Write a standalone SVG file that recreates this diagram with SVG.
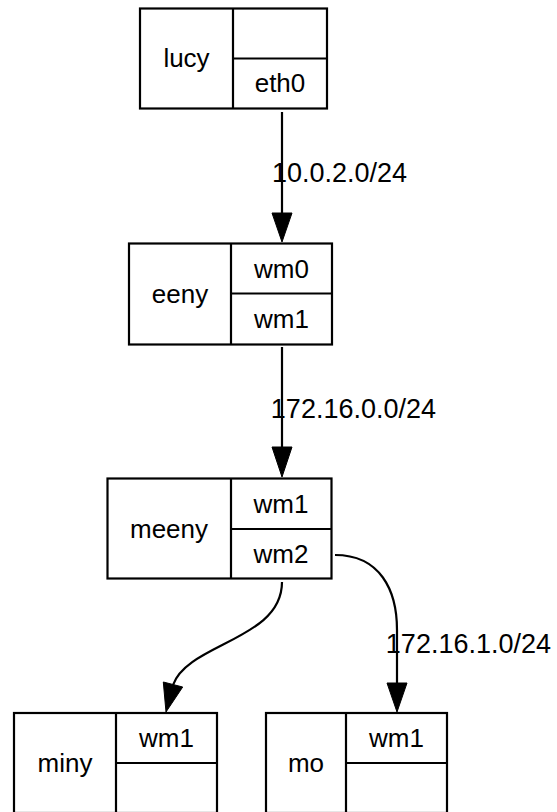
<svg xmlns="http://www.w3.org/2000/svg" width="557" height="812" viewBox="0 0 557 812">
  <style>
    .box { fill: #ffffff; stroke: #000000; stroke-width: 2.2; }
    .sep { fill: none; stroke: #000000; stroke-width: 2.2; }
    .edge { fill: none; stroke: #000000; stroke-width: 2.2; }
    .head { fill: #000000; stroke: #000000; stroke-width: 1; }
    text { font-family: "Liberation Sans", Arial, sans-serif; font-size: 26px; fill: #000000; }
    .c { text-anchor: middle; }
    .lbl { font-size: 27px; text-anchor: end; }
  </style>
  <rect width="557" height="812" fill="#ffffff"/>

  <!-- hosts -->
  <g id="lucy">
    <rect class="box" x="140" y="8.5" width="187" height="100"/>
    <path class="sep" d="M233,8.5 V108.5 M233,58.5 H327"/>
    <text class="c" x="186.5" y="67">lucy</text>
    <text class="c" x="280" y="92">eth0</text>
  </g>

  <g id="eeny">
    <rect class="box" x="129" y="243.5" width="203" height="101"/>
    <path class="sep" d="M231,243.5 V344.5 M231,293.5 H332"/>
    <text class="c" x="180" y="303">eeny</text>
    <text class="c" x="281.5" y="277.5">wm0</text>
    <text class="c" x="281.5" y="328">wm1</text>
  </g>

  <g id="meeny">
    <rect class="box" x="107.5" y="478.5" width="224" height="100"/>
    <path class="sep" d="M231,478.5 V578.5 M231,529 H331.5"/>
    <text class="c" x="169" y="537.5">meeny</text>
    <text class="c" x="281" y="512.5">wm1</text>
    <text class="c" x="281" y="563">wm2</text>
  </g>

  <g id="miny">
    <rect class="box" x="14" y="713" width="203" height="100"/>
    <path class="sep" d="M116,713 V813 M116,763 H217"/>
    <text class="c" x="65" y="772">miny</text>
    <text class="c" x="166.5" y="747">wm1</text>
  </g>

  <g id="mo">
    <rect class="box" x="266" y="713" width="181" height="100"/>
    <path class="sep" d="M346,713 V813 M346,763 H447"/>
    <text class="c" x="306" y="772">mo</text>
    <text class="c" x="396.5" y="747">wm1</text>
  </g>

  <!-- links -->
  <g id="edges">
    <path class="edge" d="M282,112 V213"/>
    <polygon class="head" points="272,213 292,213 282,242"/>
    <text class="lbl" x="407" y="182">10.0.2.0/24</text>

    <path class="edge" d="M282,347 V447"/>
    <polygon class="head" points="272,447 292,447 282,477"/>
    <text class="lbl" x="436" y="418">172.16.0.0/24</text>

    <path class="edge" d="M282,582 C282,640 188,643 173,685"/>
    <polygon class="head" points="163.3,682 182.7,687 166,712"/>

    <path class="edge" d="M335,555 C380,555 397,590 397,630 V683"/>
    <polygon class="head" points="387,683 407,683 397,712"/>
    <text class="lbl" x="551" y="653">172.16.1.0/24</text>
  </g>
</svg>
